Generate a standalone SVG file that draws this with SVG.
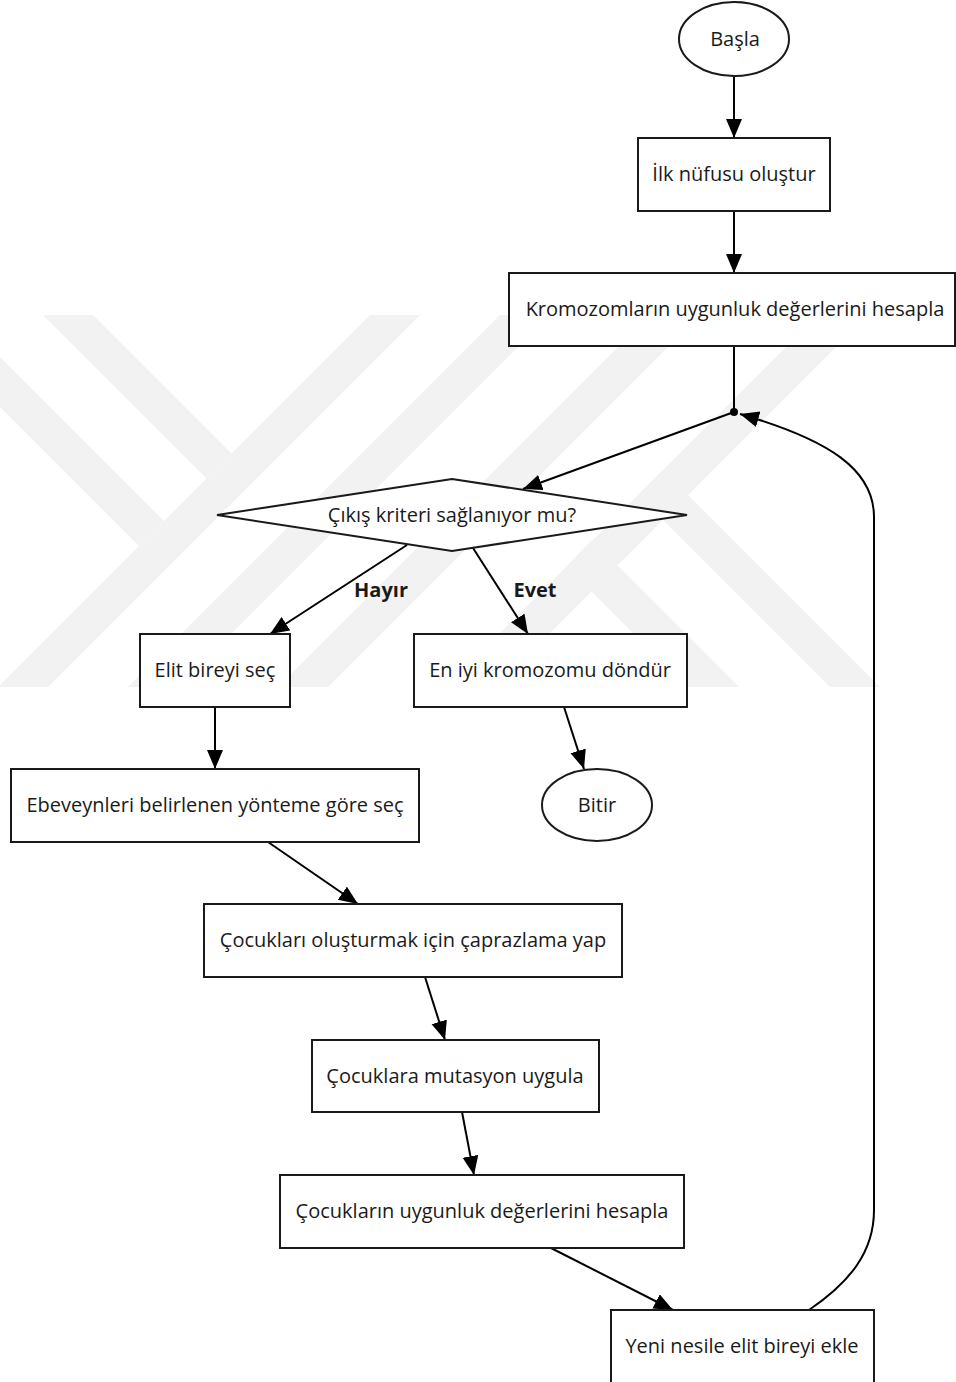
<svg xmlns="http://www.w3.org/2000/svg" width="956" height="1382" viewBox="0 0 956 1382">
<defs>
<marker id="arr" markerUnits="userSpaceOnUse" markerWidth="22" markerHeight="18" refX="19" refY="8" orient="auto">
<path d="M0,0 L19,8 L0,16 z" fill="#000"/>
</marker>
<clipPath id="wmclip"><rect x="0" y="315" width="956" height="372"/></clipPath>
<style>
.box{fill:#fff;stroke:#1a1a1a;stroke-width:2}
.t{font-family:"Open Sans","Liberation Sans",sans-serif;font-size:20px;fill:#1a1a1a;text-anchor:middle;dominant-baseline:central}
.lb{font-family:"Open Sans","Liberation Sans",sans-serif;font-size:20px;font-weight:bold;fill:#1a1a1a;text-anchor:middle;dominant-baseline:central}
.c{fill:none;stroke:#000;stroke-width:2}
.wm{fill:#f2f2f2}
</style>
</defs>
<rect width="956" height="1382" fill="#fff"/>
<g id="watermark" clip-path="url(#wmclip)">
<polygon class="wm" points="370,315 420,315 48,687 -2,687"/>
<polygon class="wm" points="43,315 93,315 231.5,453.5 206.5,478.5"/>
<polygon class="wm" points="-40,317 164,521 139,546 -40,367"/>
<polygon class="wm" points="500,315 550,315 178,687 128,687"/>
<polygon class="wm" points="650,315 700,315 328,687 278,687"/>
<polygon class="wm" points="818,315 868,315 496,687 446,687"/>
<polygon class="wm" points="663,470 880,687 830,687 638,495"/>
<polygon class="wm" points="592,540 739,687 687,687 566.5,566.5"/>
</g>
<g id="connectors">
<line class="c" x1="734" y1="77" x2="734" y2="138" marker-end="url(#arr)"/>
<line class="c" x1="734" y1="211" x2="734" y2="273" marker-end="url(#arr)"/>
<line class="c" x1="734" y1="346" x2="734" y2="412"/>
<line class="c" x1="734" y1="412" x2="523" y2="489" marker-end="url(#arr)"/>
<path class="c" d="M809,1310 C850,1282 874,1252 874,1210 L874,517 C874,470 830,440 740,414" marker-end="url(#arr)"/>
<line class="c" x1="407" y1="545" x2="270" y2="634" marker-end="url(#arr)"/>
<line class="c" x1="473" y1="548" x2="528" y2="634" marker-end="url(#arr)"/>
<line class="c" x1="215" y1="707" x2="215" y2="769" marker-end="url(#arr)"/>
<line class="c" x1="564" y1="707" x2="584" y2="769" marker-end="url(#arr)"/>
<line class="c" x1="268" y1="842" x2="358" y2="904" marker-end="url(#arr)"/>
<line class="c" x1="425" y1="977" x2="445" y2="1040" marker-end="url(#arr)"/>
<line class="c" x1="462" y1="1112" x2="474" y2="1175" marker-end="url(#arr)"/>
<line class="c" x1="551" y1="1248" x2="673" y2="1310" marker-end="url(#arr)"/>
<circle cx="734" cy="412" r="4" fill="#000"/>
<text class="lb" x="381" y="589">Hayır</text>
<text class="lb" x="535" y="589">Evet</text>
</g>
<g id="basla">
<ellipse class="box" cx="734" cy="39" rx="55" ry="37"/>
<text class="t" x="735" y="38">Başla</text>
</g>
<g id="ilk">
<rect class="box" x="638" y="138" width="192" height="73"/>
<text class="t" x="734" y="173">İlk nüfusu oluştur</text>
</g>
<g id="kromozom">
<rect class="box" x="509" y="273" width="446" height="73"/>
<text class="t" x="735" y="308">Kromozomların uygunluk değerlerini hesapla</text>
</g>
<g id="karar">
<polygon class="box" points="452,479 687,515 452,551 217,515"/>
<text class="t" x="452" y="514">Çıkış kriteri sağlanıyor mu?</text>
</g>
<g id="elit">
<rect class="box" x="140" y="634" width="150" height="73"/>
<text class="t" x="215" y="669">Elit bireyi seç</text>
</g>
<g id="eniyi">
<rect class="box" x="414" y="634" width="273" height="73"/>
<text class="t" x="550" y="669">En iyi kromozomu döndür</text>
</g>
<g id="bitir">
<ellipse class="box" cx="597" cy="805" rx="55" ry="36"/>
<text class="t" x="597" y="804">Bitir</text>
</g>
<g id="ebeveyn">
<rect class="box" x="11" y="769" width="408" height="73"/>
<text class="t" x="215" y="804">Ebeveynleri belirlenen yönteme göre seç</text>
</g>
<g id="caprazlama">
<rect class="box" x="204" y="904" width="418" height="73"/>
<text class="t" x="413" y="939">Çocukları oluşturmak için çaprazlama yap</text>
</g>
<g id="mutasyon">
<rect class="box" x="312" y="1040" width="287" height="72"/>
<text class="t" x="455" y="1075">Çocuklara mutasyon uygula</text>
</g>
<g id="uygunluk">
<rect class="box" x="280" y="1175" width="404" height="73"/>
<text class="t" x="482" y="1210">Çocukların uygunluk değerlerini hesapla</text>
</g>
<g id="yeni">
<rect class="box" x="611" y="1310" width="263" height="80"/>
<text class="t" x="742" y="1345">Yeni nesile elit bireyi ekle</text>
</g>
</svg>
